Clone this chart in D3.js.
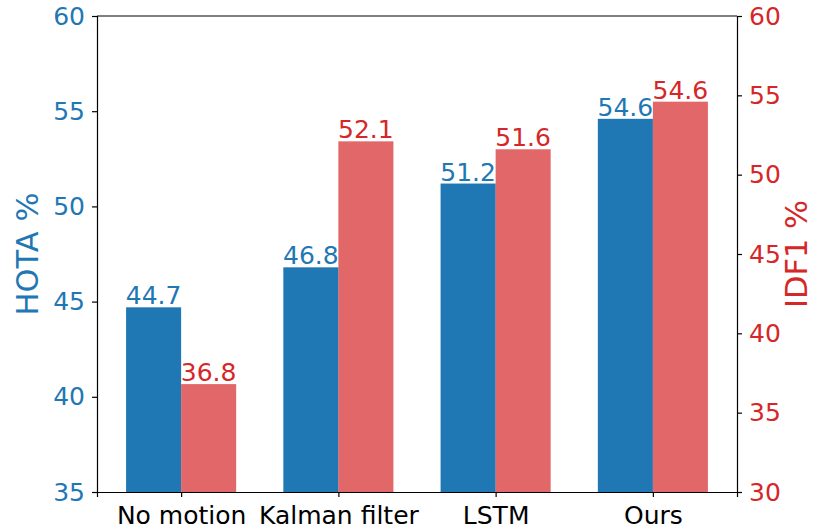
<!DOCTYPE html>
<html>
  <head>
    <meta charset="utf-8">
    <title>HOTA and IDF1 by motion model</title>
    <script src="https://d3js.org/d3.v7.min.js"></script>
    <style>
      body { margin: 0; background: #fff; }
      svg { font-family: "DejaVu Sans", sans-serif; }
    </style>
  </head>
  <body>
    <svg id="chart" width="813" height="527"></svg>
    <script>
      // data
      var methods = ["No motion", "Kalman filter", "LSTM", "Ours"];
      var hota = [44.7, 46.8, 51.2, 54.6];
      var idf1 = [36.8, 52.1, 51.6, 54.6];
      var hotaTicks = [35, 40, 45, 50, 55, 60];
      var idf1Ticks = [30, 35, 40, 45, 50, 55, 60];

      var blue = "#1f77b4", red = "#d62728";
      var margin = { left: 97, right: 76, top: 16, bottom: 35 };
      var width = 813, height = 527;
      var x0 = margin.left, x1 = width - margin.right;
      var y0 = height - margin.bottom, y1 = margin.top;
      var barW = 0.35;

      svg = d3.select("#chart");

      // matplotlib-like: bar centres at i -/+ w/2, 5% margin
      x = d3.scaleLinear()
        .domain([-barW - 0.185, methods.length - 1 + barW + 0.185])
        .range([x0, x1]);
      yL = d3.scaleLinear().domain([35, 60]).range([y0, y1]);
      yR = d3.scaleLinear().domain([30, 60]).range([y0, y1]);

      // bars
      svg.append("g")
        .selectAll("rect")
          .data(hota)
        .enter().append("rect")
          .attr("x", function(d, i) { return x(i - barW); })
          .attr("width", x(barW) - x(0))
          .attr("y", function(d) { return yL(d); })
          .attr("height", function(d) { return y0 - yL(d); })
          .attr("fill", blue);
      svg.append("g")
        .selectAll("rect")
          .data(idf1)
        .enter().append("rect")
          .attr("x", function(d, i) { return x(i); })
          .attr("width", x(barW) - x(0))
          .attr("y", function(d) { return yR(d); })
          .attr("height", function(d) { return y0 - yR(d); })
          .attr("fill", red)
          .attr("fill-opacity", 0.7);

      // value labels
      svg.append("g")
        .selectAll("text")
          .data(hota)
        .enter().append("text")
          .attr("x", function(d, i) { return x(i - barW / 2); })
          .attr("y", function(d) { return yL(d) - 3; })
          .attr("text-anchor", "middle")
          .attr("font-size", 25)
          .attr("fill", blue)
          .text(function(d) { return d.toFixed(1); });
      svg.append("g")
        .selectAll("text")
          .data(idf1)
        .enter().append("text")
          .attr("x", function(d, i) { return x(i + barW / 2); })
          .attr("y", function(d) { return yR(d) - 3; })
          .attr("text-anchor", "middle")
          .attr("font-size", 25)
          .attr("fill", red)
          .text(function(d) { return d.toFixed(1); });

      // axes
      var left = svg.append("g")
        .attr("transform", "translate(" + x0 + ",0)")
        .call(d3.axisLeft(yL).tickValues(hotaTicks).tickSize(5).tickPadding(7));
      var right = svg.append("g")
        .attr("transform", "translate(" + x1 + ",0)")
        .call(d3.axisRight(yR).tickValues(idf1Ticks).tickSize(5).tickPadding(7));
      var bottom = svg.append("g")
        .attr("transform", "translate(0," + y0 + ")")
        .call(d3.axisBottom(x).tickValues(d3.range(methods.length))
          .tickFormat(function(i) { return methods[i]; }).tickSize(5).tickPadding(9));
      svg.append("line")
        .attr("x1", x0).attr("x2", x1).attr("y1", y1).attr("y2", y1)
        .attr("stroke", "#000").attr("stroke-width", 1.2);

      [left, right, bottom].forEach(function(g) {
        g.select(".domain").attr("stroke", "#000").attr("stroke-width", 1.2);
        g.selectAll(".tick line").attr("stroke", "#000").attr("stroke-width", 1.2);
        g.selectAll("text").attr("font-size", 25).attr("font-family", "DejaVu Sans");
      });
      left.selectAll("text").attr("fill", blue);
      right.selectAll("text").attr("fill", red);
      bottom.selectAll("text").attr("fill", "#000");

      // axis titles
      svg.append("text")
        .attr("transform", "translate(38," + (y0 + y1) / 2 + ") rotate(-90)")
        .attr("text-anchor", "middle")
        .attr("font-size", 30.5)
        .attr("fill", blue)
        .text("HOTA %");
      svg.append("text")
        .attr("transform", "translate(807," + (y0 + y1) / 2 + ") rotate(-90)")
        .attr("text-anchor", "middle")
        .attr("font-size", 30.5)
        .attr("fill", red)
        .text("IDF1 %");
    </script>
  </body>
</html>
